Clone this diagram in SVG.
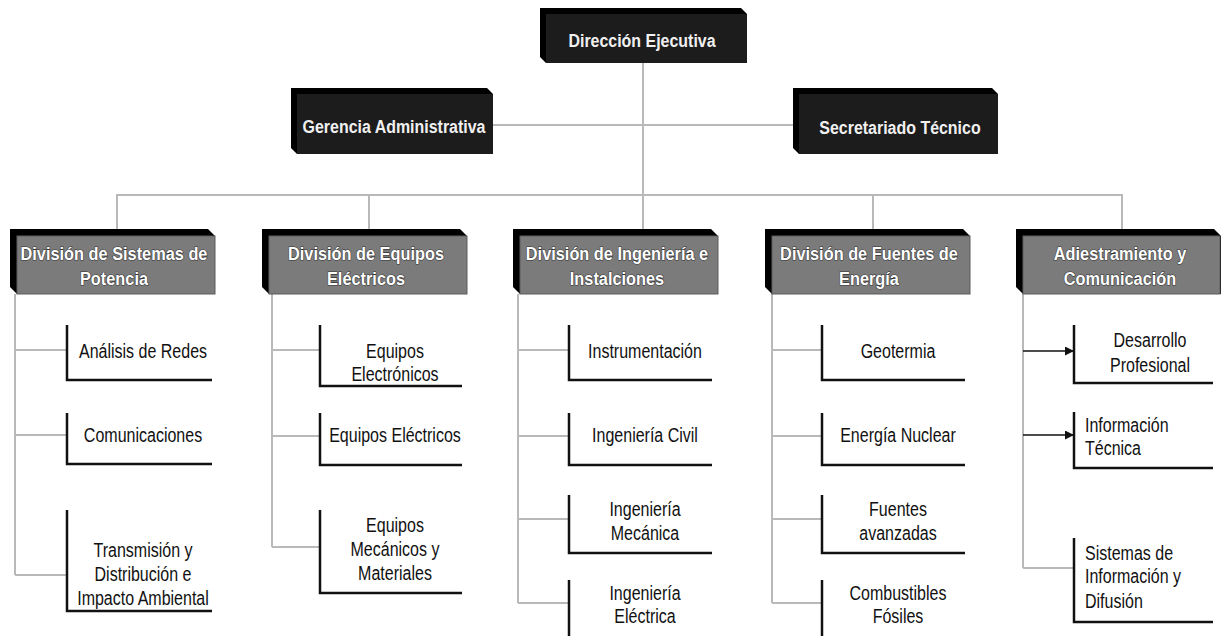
<svg xmlns="http://www.w3.org/2000/svg" width="1221" height="636" viewBox="0 0 1221 636">
  <style>
    .conn { fill: none; stroke: #b9b9b9; stroke-width: 2; }
    .arrow { fill: none; stroke: #111; stroke-width: 1.5; marker-end: url(#ah); }
    .brk { fill: none; stroke: #111; stroke-width: 2.5; }
    .back { fill: #000; }
    .face-dark { fill: #1c1c1c; }
    .face-grey { fill: #7b7b7b; stroke: #5c5c5c; stroke-width: 1; }
    text { font-family: "Liberation Sans", Arial, sans-serif; }
    .t-top { font-size: 19px; font-weight: bold; fill: #f0f0f0; text-anchor: middle; }
    .t-div { font-size: 19px; font-weight: bold; fill: #ffffff; stroke: #333; stroke-width: 1.2; paint-order: stroke; text-anchor: middle; }
    .t-leaf { font-size: 20px; fill: #111; text-anchor: middle; }
    .t-left { text-anchor: start; }
  </style>
  <defs>
    <marker id="ah" viewBox="0 0 10 10" refX="10" refY="5" markerWidth="9" markerHeight="9" markerUnits="userSpaceOnUse" orient="auto">
      <path d="M0,0 L10,5 L0,10 z" fill="#111"/>
    </marker>
  </defs>
  <rect width="1221" height="636" fill="#fff"/>

  <!-- connectors -->
  <g id="connectors">
    <path class="conn" d="M643 63 V229"/>
    <path class="conn" d="M493 125 H793"/>
    <path class="conn" d="M117 229 V195 H1122 V229"/>
    <path class="conn" d="M369 195 V229 M873 195 V229"/>
    <!-- column 1 -->
    <path class="conn" d="M15 294 V575 M15 350 H67 M15 435 H67 M15 575 H67"/>
    <!-- column 2 -->
    <path class="conn" d="M272 294 V547 M272 350 H320 M272 436 H320 M272 547 H320"/>
    <!-- column 3 -->
    <path class="conn" d="M518 294 V603 M518 350 H569 M518 436 H569 M518 519 H569 M518 603 H569"/>
    <!-- column 4 -->
    <path class="conn" d="M772 294 V603 M772 350 H822 M772 436 H822 M772 519 H822 M772 603 H822"/>
    <!-- column 5 -->
    <path class="conn" d="M1023 294 V568 M1023 568 H1074"/>
    <path class="arrow" d="M1023 351 H1074"/>
    <path class="arrow" d="M1023 435 H1074"/>
  </g>

  <!-- top level -->
  <g id="direccion">
    <polygon class="back" points="540,8 741,8 747,14 747,63 546,63 540,57"/>
    <rect class="face-dark" x="546" y="14" width="201" height="49"/>
    <text class="t-top" font-size="18" transform="translate(642 47) scale(0.84 1)">Dirección Ejecutiva</text>
  </g>
  <g id="gerencia">
    <polygon class="back" points="291,88 487,88 493,94 493,154 297,154 291,148"/>
    <rect class="face-dark" x="297" y="94" width="196" height="60"/>
    <text class="t-top" transform="translate(394 133) scale(0.84 1)">Gerencia Administrativa</text>
  </g>
  <g id="secretariado">
    <polygon class="back" points="793,88 992,88 998,94 998,154 799,154 793,148"/>
    <rect class="face-dark" x="799" y="94" width="199" height="60"/>
    <text class="t-top" transform="translate(900 134) scale(0.84 1)">Secretariado Técnico</text>
  </g>

  <!-- divisions -->
  <g id="div-sistemas">
    <polygon class="back" points="10,229 208,229 215,236 215,294 17,294 10,287"/>
    <rect class="face-grey" x="17" y="236" width="198" height="58"/>
    <text class="t-div" transform="translate(114 260) scale(0.86 1)">División de Sistemas de</text>
    <text class="t-div" transform="translate(114 285) scale(0.86 1)">Potencia</text>
  </g>
  <g id="div-equipos">
    <polygon class="back" points="262,229 460,229 467,236 467,294 269,294 262,287"/>
    <rect class="face-grey" x="269" y="236" width="198" height="58"/>
    <text class="t-div" transform="translate(366 260) scale(0.86 1)">División de Equipos</text>
    <text class="t-div" transform="translate(366 285) scale(0.86 1)">Eléctricos</text>
  </g>
  <g id="div-ingenieria">
    <polygon class="back" points="513,229 711,229 718,236 718,294 520,294 513,287"/>
    <rect class="face-grey" x="520" y="236" width="198" height="58"/>
    <text class="t-div" transform="translate(617 260) scale(0.86 1)">División de Ingeniería e</text>
    <text class="t-div" transform="translate(617 285) scale(0.86 1)">Instalciones</text>
  </g>
  <g id="div-fuentes">
    <polygon class="back" points="765,229 963,229 970,236 970,294 772,294 765,287"/>
    <rect class="face-grey" x="772" y="236" width="198" height="58"/>
    <text class="t-div" transform="translate(869 260) scale(0.86 1)">División de Fuentes de</text>
    <text class="t-div" transform="translate(869 285) scale(0.86 1)">Energía</text>
  </g>
  <g id="div-adiestramiento">
    <polygon class="back" points="1016,229 1214,229 1221,236 1221,294 1023,294 1016,287"/>
    <rect class="face-grey" x="1023" y="236" width="197" height="58"/>
    <text class="t-div" transform="translate(1120 260) scale(0.86 1)">Adiestramiento y</text>
    <text class="t-div" transform="translate(1120 285) scale(0.86 1)">Comunicación</text>
  </g>

  <!-- column 1 units -->
  <g id="analisis-redes">
    <path class="brk" d="M67 325 V380 H212"/>
    <text class="t-leaf" transform="translate(143 358) scale(0.8 1)">Análisis de Redes</text>
  </g>
  <g id="comunicaciones">
    <path class="brk" d="M67 413 V464 H212"/>
    <text class="t-leaf" transform="translate(143 442) scale(0.8 1)">Comunicaciones</text>
  </g>
  <g id="transmision">
    <path class="brk" d="M67 510 V611 H212"/>
    <text class="t-leaf" transform="translate(143 557) scale(0.8 1)">Transmisión y</text>
    <text class="t-leaf" transform="translate(143 581) scale(0.8 1)">Distribución e</text>
    <text class="t-leaf" transform="translate(143 605) scale(0.8 1)">Impacto Ambiental</text>
  </g>

  <!-- column 2 units -->
  <g id="equipos-electronicos">
    <path class="brk" d="M320 325 V386 H462"/>
    <text class="t-leaf" transform="translate(395 358) scale(0.8 1)">Equipos</text>
    <text class="t-leaf" transform="translate(395 381) scale(0.8 1)">Electrónicos</text>
  </g>
  <g id="equipos-electricos">
    <path class="brk" d="M320 413 V465 H462"/>
    <text class="t-leaf" transform="translate(395 442) scale(0.8 1)">Equipos Eléctricos</text>
  </g>
  <g id="equipos-mecanicos">
    <path class="brk" d="M320 510 V593 H462"/>
    <text class="t-leaf" transform="translate(395 532) scale(0.8 1)">Equipos</text>
    <text class="t-leaf" transform="translate(395 556) scale(0.8 1)">Mecánicos y</text>
    <text class="t-leaf" transform="translate(395 580) scale(0.8 1)">Materiales</text>
  </g>

  <!-- column 3 units -->
  <g id="instrumentacion">
    <path class="brk" d="M569 325 V380 H712"/>
    <text class="t-leaf" transform="translate(645 358) scale(0.8 1)">Instrumentación</text>
  </g>
  <g id="ing-civil">
    <path class="brk" d="M569 413 V465 H712"/>
    <text class="t-leaf" transform="translate(645 442) scale(0.8 1)">Ingeniería Civil</text>
  </g>
  <g id="ing-mecanica">
    <path class="brk" d="M569 495 V553 H712"/>
    <text class="t-leaf" transform="translate(645 516) scale(0.8 1)">Ingeniería</text>
    <text class="t-leaf" transform="translate(645 540) scale(0.8 1)">Mecánica</text>
  </g>
  <g id="ing-electrica">
    <path class="brk" d="M569 580 V636"/>
    <text class="t-leaf" transform="translate(645 600) scale(0.8 1)">Ingeniería</text>
    <text class="t-leaf" transform="translate(645 623) scale(0.8 1)">Eléctrica</text>
  </g>

  <!-- column 4 units -->
  <g id="geotermia">
    <path class="brk" d="M822 325 V380 H965"/>
    <text class="t-leaf" transform="translate(898 358) scale(0.8 1)">Geotermia</text>
  </g>
  <g id="energia-nuclear">
    <path class="brk" d="M822 413 V465 H965"/>
    <text class="t-leaf" transform="translate(898 442) scale(0.8 1)">Energía Nuclear</text>
  </g>
  <g id="fuentes-avanzadas">
    <path class="brk" d="M822 495 V553 H965"/>
    <text class="t-leaf" transform="translate(898 516) scale(0.8 1)">Fuentes</text>
    <text class="t-leaf" transform="translate(898 540) scale(0.8 1)">avanzadas</text>
  </g>
  <g id="combustibles-fosiles">
    <path class="brk" d="M822 580 V636"/>
    <text class="t-leaf" transform="translate(898 600) scale(0.8 1)">Combustibles</text>
    <text class="t-leaf" transform="translate(898 623) scale(0.8 1)">Fósiles</text>
  </g>

  <!-- column 5 units -->
  <g id="desarrollo-profesional">
    <path class="brk" d="M1074 325 V383 H1213"/>
    <text class="t-leaf" transform="translate(1150 347) scale(0.8 1)">Desarrollo</text>
    <text class="t-leaf" transform="translate(1150 372) scale(0.8 1)">Profesional</text>
  </g>
  <g id="informacion-tecnica">
    <path class="brk" d="M1074 412 V468 H1213"/>
    <text class="t-leaf t-left" transform="translate(1085 432) scale(0.8 1)">Información</text>
    <text class="t-leaf t-left" transform="translate(1085 455) scale(0.8 1)">Técnica</text>
  </g>
  <g id="sistemas-informacion">
    <path class="brk" d="M1074 538 V622 H1213"/>
    <text class="t-leaf t-left" transform="translate(1085 560) scale(0.8 1)">Sistemas de</text>
    <text class="t-leaf t-left" transform="translate(1085 583) scale(0.8 1)">Información y</text>
    <text class="t-leaf t-left" transform="translate(1085 608) scale(0.8 1)">Difusión</text>
  </g>
</svg>
